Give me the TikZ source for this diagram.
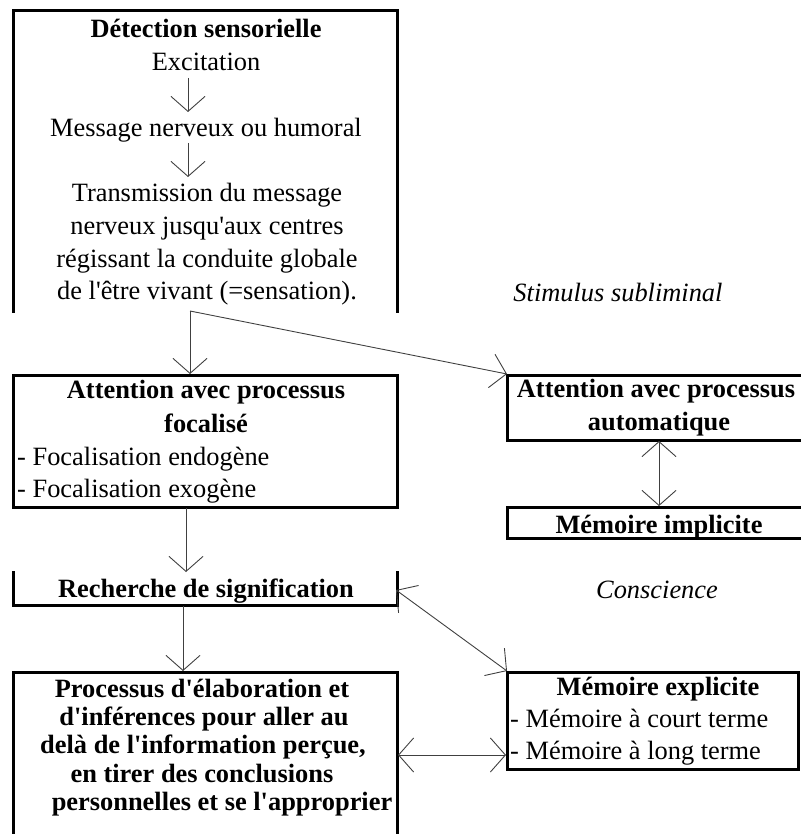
\documentclass[tikz,border=0pt]{standalone}
\usepackage{fontspec}
\setmainfont{Liberation Serif}
\usetikzlibrary{arrows.meta}
\newcommand{\qs}{\textquotesingle}
\begin{document}
\begin{tikzpicture}[x=1pt,y=-1pt,
  txt/.style={inner sep=0pt, anchor=base, font=\fontsize{26.4}{30}\selectfont},
  btxt/.style={txt, font=\fontsize{26.4}{30}\selectfont\bfseries},
  itxt/.style={txt, font=\fontsize{26.4}{30}\selectfont\itshape},
  ltxt/.style={txt, anchor=base west},
  frame/.style={draw=black, line width=3pt, line cap=rect},
  conn/.style={draw=black!75, line width=0.9pt, -{Straight Barb[length=15pt,width=34pt]}},
  dconn/.style={draw=black!75, line width=0.9pt, {Straight Barb[length=15pt,width=34pt]}-{Straight Barb[length=15pt,width=34pt]}}
]
\useasboundingbox (0,0) rectangle (800,834);

% ---------- frames ----------
\draw[frame] (13,311) -- (13,11) -- (397,11) -- (397,311);
\draw[frame] (13,375) rectangle (397,507);
\draw[frame] (13,572) -- (13,605) -- (397,605) -- (397,572);
\draw[frame] (13,845) -- (13,672) -- (397,672) -- (397,845);
\draw[frame] (810,375) -- (507,375) -- (507,440) -- (810,440);
\draw[frame] (810,507) -- (507,507) -- (507,538.5) -- (810,538.5);
\draw[frame] (507,672) rectangle (798,769);

% ---------- texts ----------
\node[btxt] (det) at (206,38) {Détection sensorielle};
\node[txt] (exc) at (206,71) {Excitation};
\node[txt] (msg) at (206,137) {Message nerveux ou humoral};
\node[txt] (tr1) at (207,202) {Transmission du message};
\node[txt] (tr2) at (207,234) {nerveux jusqu\qs aux centres};
\node[txt] (tr3) at (207,267) {régissant la conduite globale};
\node[txt] (tr4) at (207,299) {de l\qs être vivant (=sensation).};

\node[btxt] (foc1) at (206,398) {Attention avec processus};
\node[btxt] (foc2) at (206,432) {focalisé};
\node[ltxt] (foc3) at (17,465) {- Focalisation endogène};
\node[ltxt] (foc4) at (17,497) {- Focalisation exogène};

\node[btxt] (rech) at (206,597) {Recherche de signification};

\node[btxt] (pr1) at (202,697) {Processus d\qs élaboration et};
\node[btxt] (pr2) at (204,725) {d\qs inférences pour aller au};
\node[btxt] (pr3) at (203,753) {delà de l\qs information perçue,};
\node[btxt] (pr4) at (202,782) {en tirer des conclusions};
\node[btxt] (pr5) at (222,810) {personnelles et se l\qs approprier};

\node[itxt] (stim) at (618,301) {Stimulus subliminal};
\node[btxt] (au1) at (656,397) {Attention avec processus};
\node[btxt] (au2) at (659,430) {automatique};
\node[btxt] (impl) at (659,533) {Mémoire implicite};

\node[itxt] (consc) at (657,598) {Conscience};
\node[btxt] (ex1) at (658,695) {Mémoire explicite};
\node[ltxt] (ex2) at (510,727) {- Mémoire à court terme};
\node[ltxt] (ex3) at (510,759) {- Mémoire à long terme};

% ---------- connector ends ----------
\coordinate (a1s) at (188,78);  \coordinate (a1e) at (188,112);
\coordinate (a2s) at (188,143); \coordinate (a2e) at (188,177);
\coordinate (split) at (190,311);
\coordinate (focT) at (190,374);
\coordinate (autoTL) at (507,374);
\coordinate (focB) at (186,508);
\coordinate (rechT) at (186,572);
\coordinate (rechB) at (183,606);
\coordinate (procT) at (183,671);
\coordinate (autoB) at (659,441);
\coordinate (implT) at (659,506);
\coordinate (rechR) at (396,590);
\coordinate (explTL) at (507,671);
\coordinate (procR) at (398,755);
\coordinate (explL) at (506,755);

% ---------- connectors ----------
\draw[conn] (a1s) -- (a1e);
\draw[conn] (a2s) -- (a2e);
\draw[conn] (split) -- (focT);
\draw[conn] (split) -- (autoTL);
\draw[conn] (focB) -- (rechT);
\draw[conn] (rechB) -- (procT);
\draw[dconn] (autoB) -- (implT);
\draw[dconn] (rechR) -- (explTL);
\draw[dconn] (procR) -- (explL);
\end{tikzpicture}
\end{document}
